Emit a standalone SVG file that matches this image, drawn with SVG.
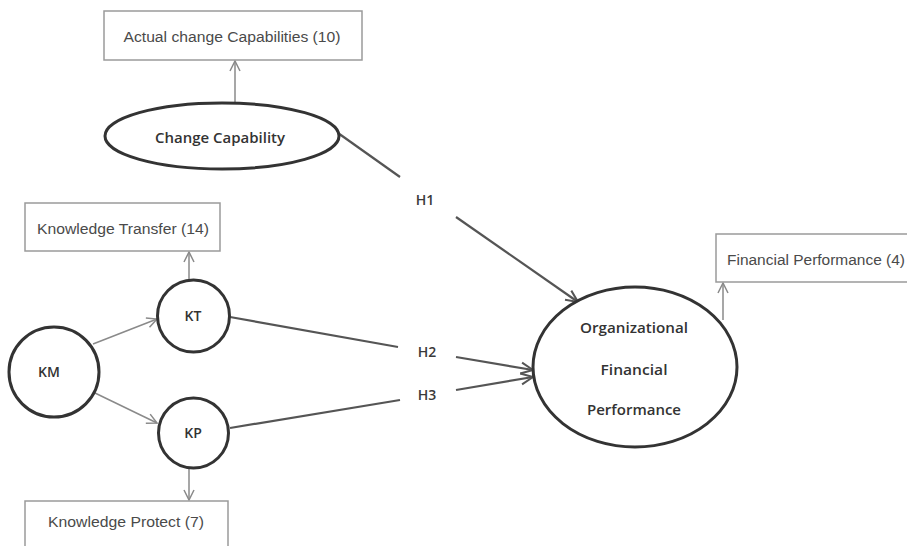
<svg xmlns="http://www.w3.org/2000/svg" width="907" height="546" viewBox="0 0 907 546">
  <style>
    .box { fill: #ffffff; stroke: #9a9a9a; stroke-width: 1.5; }
    .latent { fill: #ffffff; stroke: #333333; stroke-width: 3; }
    .lbl { font-family: "Liberation Sans", Arial, sans-serif; font-size: 14px; fill: #4a4a4a; text-anchor: middle; }
    .nlbl { font-family: "Open Sans", "Liberation Sans", sans-serif; font-weight: 600; font-size: 14px; fill: #333333; text-anchor: middle; }
    .hyp { font-family: "Open Sans", "Liberation Sans", sans-serif; font-weight: 600; font-size: 14px; fill: #3a3a3a; text-anchor: middle; }
    .thin { fill: none; stroke: #8a8a8a; stroke-width: 1.5; }
    .path { fill: none; stroke: #555555; stroke-width: 2.2; }
  </style>
  <defs>
    <marker id="openThin" viewBox="0 0 12 12" refX="11" refY="6" markerWidth="12" markerHeight="12" markerUnits="userSpaceOnUse" orient="auto">
      <path d="M1,1 L11,6 L1,11" fill="none" stroke="#8a8a8a" stroke-width="1.5"/>
    </marker>
    <marker id="openBold" viewBox="0 0 14 14" refX="13" refY="7" markerWidth="14" markerHeight="14" markerUnits="userSpaceOnUse" orient="auto">
      <path d="M1,1.5 L13,7 L1,12.5" fill="none" stroke="#555555" stroke-width="2"/>
    </marker>
  </defs>

  <rect width="907" height="546" fill="#ffffff"/>

  <!-- connectors -->
  <g id="connectors">
    <line class="thin" x1="235" y1="103" x2="235" y2="61" marker-end="url(#openThin)"/>
    <line class="thin" x1="189" y1="280" x2="189" y2="252" marker-end="url(#openThin)"/>
    <line class="thin" x1="189" y1="469" x2="189" y2="500" marker-end="url(#openThin)"/>
    <line class="thin" x1="723" y1="320" x2="723" y2="283" marker-end="url(#openThin)"/>
    <line class="thin" x1="93" y1="344" x2="157" y2="319" marker-end="url(#openThin)"/>
    <line class="thin" x1="95" y1="393" x2="157" y2="423" marker-end="url(#openThin)"/>

    <line class="path" x1="338" y1="133" x2="400" y2="177"/>
    <line class="path" x1="456" y1="217" x2="578" y2="302" marker-end="url(#openBold)"/>
    <line class="path" x1="230" y1="317" x2="398" y2="347"/>
    <line class="path" x1="456" y1="357" x2="533" y2="370" marker-end="url(#openBold)"/>
    <line class="path" x1="230" y1="428" x2="400" y2="400"/>
    <line class="path" x1="456" y1="390" x2="533" y2="377" marker-end="url(#openBold)"/>

    <text class="hyp" x="425" y="205">H1</text>
    <text class="hyp" x="427" y="357">H2</text>
    <text class="hyp" x="427" y="400">H3</text>
  </g>

  <g id="actual-change">
    <rect class="box" x="104" y="11" width="258" height="49"/>
    <text class="lbl" x="232" y="42" textLength="217" lengthAdjust="spacingAndGlyphs">Actual change Capabilities (10)</text>
  </g>

  <g id="change-capability">
    <ellipse class="latent" cx="222" cy="136" rx="117" ry="33"/>
    <text class="nlbl" x="220" y="143" textLength="130" lengthAdjust="spacingAndGlyphs">Change Capability</text>
  </g>

  <g id="knowledge-transfer">
    <rect class="box" x="25" y="203" width="195" height="48"/>
    <text class="lbl" x="123" y="234" textLength="172" lengthAdjust="spacingAndGlyphs">Knowledge Transfer (14)</text>
  </g>

  <g id="kt">
    <circle class="latent" cx="193.5" cy="316" r="36"/>
    <text class="nlbl" x="193" y="321">KT</text>
  </g>

  <g id="km">
    <circle class="latent" cx="54" cy="372" r="45"/>
    <text class="nlbl" x="49" y="377">KM</text>
  </g>

  <g id="kp">
    <circle class="latent" cx="193.5" cy="433" r="35"/>
    <text class="nlbl" x="193" y="438">KP</text>
  </g>

  <g id="knowledge-protect">
    <rect class="box" x="25" y="501" width="203" height="60"/>
    <text class="lbl" x="126" y="527" textLength="156" lengthAdjust="spacingAndGlyphs">Knowledge Protect (7)</text>
  </g>

  <g id="organizational-financial-performance">
    <ellipse class="latent" cx="635" cy="367" rx="102" ry="80"/>
    <text class="nlbl" x="634" y="333" textLength="108" lengthAdjust="spacingAndGlyphs">Organizational</text>
    <text class="nlbl" x="634" y="375" textLength="67" lengthAdjust="spacingAndGlyphs">Financial</text>
    <text class="nlbl" x="634" y="415" textLength="94" lengthAdjust="spacingAndGlyphs">Performance</text>
  </g>

  <g id="financial-performance">
    <rect class="box" x="716" y="234" width="200" height="48"/>
    <text class="lbl" x="816" y="265" textLength="178" lengthAdjust="spacingAndGlyphs">Financial Performance (4)</text>
  </g>
</svg>
